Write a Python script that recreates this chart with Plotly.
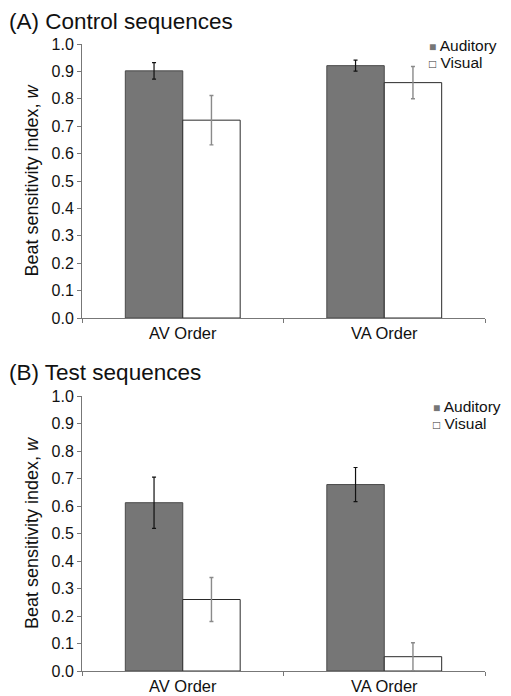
import plotly.graph_objects as go

categories = ["AV Order", "VA Order"]
control_auditory = [0.902, 0.921]
control_auditory_err = [0.030, 0.020]
control_visual = [0.722, 0.859]
control_visual_err = [0.090, 0.059]
test_auditory = [0.612, 0.678]
test_auditory_err = [0.093, 0.062]
test_visual = [0.260, 0.052]
test_visual_err = [0.080, 0.051]
y_ticks = [0.0, 0.1, 0.2, 0.3, 0.4, 0.5, 0.6, 0.7, 0.8, 0.9, 1.0]
series_names = ["Auditory", "Visual"]

AUD_FILL = "#767676"
AUD_LINE = "#4a4a4a"
VIS_FILL = "#ffffff"
VIS_LINE = "#2a2a2a"
FONT = "Liberation Sans, Arial, Helvetica, sans-serif"

# the page body adds an 8px offset; lay out in reference pixels minus that offset
OFF = 8
W, H = 511 - OFF, 696 - OFF
ML, MR, MT, MB = 82 - OFF, 26, 44 - OFF, 25
PW, PH = W - ML - MR, H - MT - MB

def py(ref_y):
    return (H - MB - (ref_y - OFF)) / PH

def px(ref_x):
    return ((ref_x - OFF) - ML) / PW

fig = go.Figure()

panels = [
    ("x", "y", control_auditory, control_auditory_err, control_visual, control_visual_err),
    ("x2", "y2", test_auditory, test_auditory_err, test_visual, test_visual_err),
]
for xa, ya, aud, aud_e, vis, vis_e in panels:
    fig.add_trace(go.Bar(
        x=categories, y=aud, xaxis=xa, yaxis=ya, showlegend=False, name=series_names[0],
        marker=dict(color=AUD_FILL, line=dict(color=AUD_LINE, width=1)),
        error_y=dict(type="data", array=aud_e, color="#111111", thickness=1.2, width=2),
    ))
    fig.add_trace(go.Bar(
        x=categories, y=vis, xaxis=xa, yaxis=ya, showlegend=False, name=series_names[1],
        marker=dict(color=VIS_FILL, line=dict(color=VIS_LINE, width=1)),
        error_y=dict(type="data", array=vis_e, color="#8a8a8a", thickness=1.4, width=2),
    ))

yaxis_common = dict(
    range=[0, 1.0], tickvals=y_ticks, tickformat=".1f", showgrid=False, zeroline=False,
    showline=True, linecolor="#777777", linewidth=1, ticks="outside", ticklen=4,
    tickcolor="#777777", tickfont=dict(size=16, color="#111111", family=FONT),
    automargin=False,
    title=dict(text="Beat sensitivity index, <i>w</i>", font=dict(size=18, color="#111111", family=FONT), standoff=8),
)
xaxis_common = dict(
    showgrid=False, showline=True, linecolor="#777777", linewidth=1,
    ticks="outside", tickson="boundaries", ticklen=4, tickcolor="#777777",
    tickfont=dict(size=16.5, color="#111111", family=FONT), automargin=False,
)

fig.update_layout(
    width=W, height=H,
    margin=dict(l=ML, r=MR, t=MT, b=MB),
    paper_bgcolor="white", plot_bgcolor="white",
    barmode="group", bargap=0.43, bargroupgap=0,
    font=dict(family=FONT, color="#111111"),
    showlegend=False,
    xaxis=dict(domain=[0, 1], anchor="y", **xaxis_common),
    yaxis=dict(domain=[py(318), 1], anchor="x", **yaxis_common),
    xaxis2=dict(domain=[0, 1], anchor="y2", **xaxis_common),
    yaxis2=dict(domain=[0, py(396)], anchor="x2", **yaxis_common),
)

# panel titles
for text, yref_px in [("(A) Control sequences", 21), ("(B) Test sequences", 372)]:
    fig.add_annotation(text=text, xref="paper", yref="paper", x=px(8), y=py(yref_px),
                       xanchor="left", yanchor="middle", showarrow=False, borderpad=0,
                       font=dict(size=22.5, family=FONT, color="#111111"))

# legends (one per panel)
for ytop, xleft in [(45, 428), (406, 432)]:
    fig.add_annotation(text=f"<span style='color:{AUD_FILL};font-size:12px'>■</span> {series_names[0]}",
                       xref="paper", yref="paper", x=px(xleft), y=py(ytop),
                       xanchor="left", yanchor="middle", showarrow=False, borderpad=0,
                       font=dict(size=15.5, family=FONT, color="#111111"))
    fig.add_annotation(text=f"<span style='color:#333333;font-size:12px'>□</span> {series_names[1]}",
                       xref="paper", yref="paper", x=px(xleft), y=py(ytop + 17.5),
                       xanchor="left", yanchor="middle", showarrow=False, borderpad=0,
                       font=dict(size=15.5, family=FONT, color="#111111"))

fig.write_html("out.html")
